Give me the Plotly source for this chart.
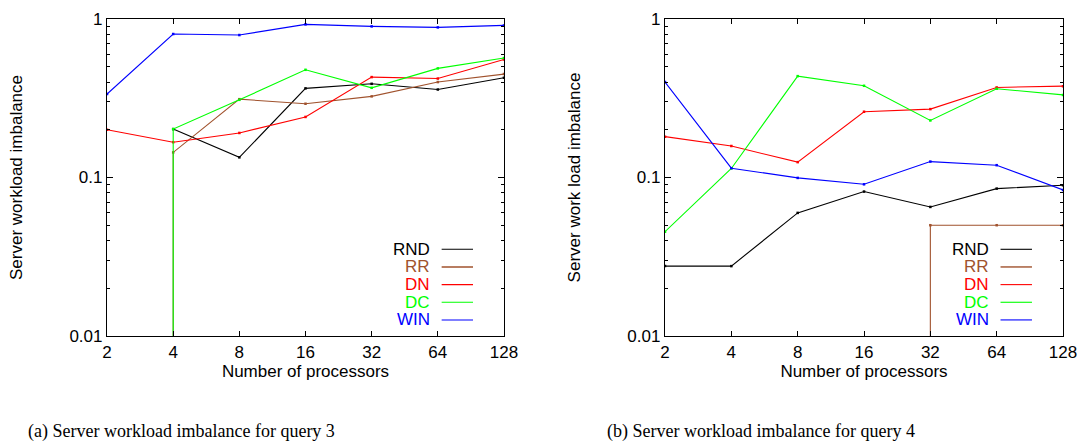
import plotly.graph_objects as go
from plotly.subplots import make_subplots

# Processor counts (log2-spaced x axis)
procs = [2, 4, 8, 16, 32, 64, 128]
proc_labels = ["2", "4", "8", "16", "32", "64", "128"]

# Query 3 imbalance per strategy
q3_rnd_x = [4, 8, 16, 32, 64, 128]
q3_rnd_y = [0.202, 0.134, 0.365, 0.390, 0.359, 0.426]
q3_rr_x = [4, 4, 8, 16, 32, 64, 128]
q3_rr_y = [0.001, 0.144, 0.312, 0.292, 0.325, 0.400, 0.449]
q3_dn_x = [2, 4, 8, 16, 32, 64, 128]
q3_dn_y = [0.200, 0.167, 0.191, 0.241, 0.430, 0.421, 0.556]
q3_dc_x = [4, 4, 8, 16, 32, 64, 128]
q3_dc_y = [0.001, 0.202, 0.309, 0.478, 0.368, 0.488, 0.567]
q3_win_x = [2, 4, 8, 16, 32, 64, 128]
q3_win_y = [0.336, 0.804, 0.792, 0.925, 0.898, 0.885, 0.911]

# Query 4 imbalance per strategy
q4_rnd_x = [2, 4, 8, 16, 32, 64, 128]
q4_rnd_y = [0.0276, 0.0276, 0.0598, 0.0815, 0.0652, 0.0851, 0.0894]
q4_rr_x = [32, 32, 64, 128]
q4_rr_y = [0.001, 0.050, 0.050, 0.050]
q4_dn_x = [2, 4, 8, 16, 32, 64, 128]
q4_dn_y = [0.181, 0.158, 0.125, 0.260, 0.270, 0.370, 0.377]
q4_dc_x = [2, 4, 8, 16, 32, 64, 128]
q4_dc_y = [0.0455, 0.114, 0.436, 0.379, 0.229, 0.363, 0.332]
q4_win_x = [2, 4, 8, 16, 32, 64, 128]
q4_win_y = [0.400, 0.1145, 0.0994, 0.0906, 0.126, 0.1196, 0.0835]

names = ["RND", "RR", "DN", "DC", "WIN"]
colors = ["#000000", "#A0522D", "#FF0000", "#00FF00", "#0000FF"]

y_major = [0.01, 0.1, 1]
y_major_labels = ["0.01", "0.1", "1"]
y_minor = [m * d for d in (0.01, 0.1) for m in range(2, 10)]

captions = ["(a) Server workload imbalance for query 3",
            "(b) Server workload imbalance for query 4"]
y_titles = ["Server workload imbalance", "Server work load imbalance"]

SANS = "Liberation Sans, Arial, sans-serif"
FS = 17

fig = make_subplots(rows=1, cols=2)

panels = [
    [(q3_rnd_x, q3_rnd_y), (q3_rr_x, q3_rr_y), (q3_dn_x, q3_dn_y),
     (q3_dc_x, q3_dc_y), (q3_win_x, q3_win_y)],
    [(q4_rnd_x, q4_rnd_y), (q4_rr_x, q4_rr_y), (q4_dn_x, q4_dn_y),
     (q4_dc_x, q4_dc_y), (q4_win_x, q4_win_y)],
]

for col, series in enumerate(panels, start=1):
    for (xs, ys), name, color in zip(series, names, colors):
        fig.add_trace(go.Scatter(
            x=xs, y=ys, name=name, mode="lines+markers",
            line=dict(color=color, width=1.1),
            marker=dict(color=color, size=2.5, symbol="square"),
            showlegend=False,
        ), row=1, col=col)

x_domains = [[0.0993, 0.4675], [0.6169, 0.9861]]
y_domain = [0.25, 0.9576]

for i in range(2):
    xa = "xaxis" if i == 0 else "xaxis2"
    ya = "yaxis" if i == 0 else "yaxis2"
    fig.layout[xa].update(
        type="log", range=[0.30103, 2.10721], domain=x_domains[i],
        automargin=False,
        tickvals=procs, ticktext=proc_labels,
        ticks="inside", ticklen=5, tickcolor="black", tickwidth=1,
        showline=True, linecolor="black", linewidth=1.3, mirror="allticks",
        showgrid=False, zeroline=False,
        tickfont=dict(family=SANS, size=FS, color="black"),
        title=dict(text="Number of processors", standoff=0,
                   font=dict(family=SANS, size=FS, color="black")),
    )
    fig.layout[ya].update(
        type="log", range=[-2, 0], domain=y_domain,
        automargin=False,
        tickvals=y_major, ticktext=y_major_labels,
        ticks="inside", ticklen=6, tickcolor="black", tickwidth=1,
        minor=dict(ticks="inside", ticklen=3, tickcolor="black",
                   tickvals=y_minor, showgrid=False),
        showline=True, linecolor="black", linewidth=1.3, mirror="allticks",
        showgrid=False, zeroline=False,
        tickfont=dict(family=SANS, size=FS, color="black"),
        title=dict(text=y_titles[i], standoff=42,
                   font=dict(family=SANS, size=FS, color="black")),
    )

    # Key: right-aligned labels with a short line sample to the right
    xref = "x domain" if i == 0 else "x2 domain"
    yref = "y domain" if i == 0 else "y2 domain"
    for k, (name, color) in enumerate(zip(names, colors)):
        yk = 0.2735 - k * 0.0557
        fig.add_annotation(
            x=0.818, y=yk, xref=xref, yref=yref, text=name,
            showarrow=False, xanchor="right", yanchor="middle",
            font=dict(family=SANS, size=FS, color=color),
        )
        fig.add_shape(
            type="line", xref=xref, yref=yref,
            x0=0.843, x1=0.922, y0=yk, y1=yk,
            line=dict(color=color, width=1.4 if name == "RR" else 1.1),
        )

for cap, cx in zip(captions, (0.168, 0.706)):
    fig.add_annotation(
        x=cx, y=0.036, xref="paper", yref="paper", text=cap,
        showarrow=False, xanchor="center", yanchor="middle",
        font=dict(family="Liberation Serif, serif", size=18, color="black"),
    )

fig.update_layout(
    width=1078, height=448,
    margin=dict(l=0, r=0, t=0, b=0),
    paper_bgcolor="white", plot_bgcolor="white",
    showlegend=False,
)

fig.write_html("out.html")
